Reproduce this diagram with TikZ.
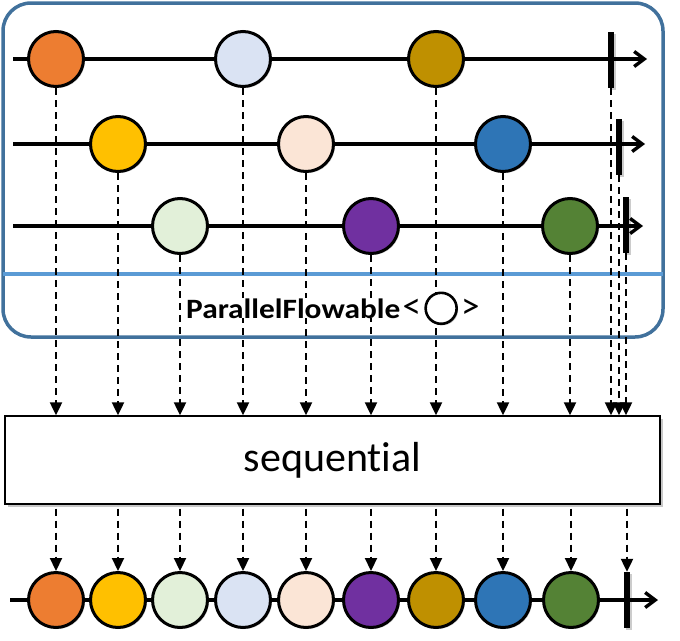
\documentclass[tikz,border=0pt]{standalone}
\usepackage{fontspec}
\setmainfont{Carlito}[Ligatures=NoCommon]
\usetikzlibrary{calc}
\usetikzlibrary{arrows.meta}
\usetikzlibrary{shadows}
\usetikzlibrary{positioning}

\definecolor{mOrange}{HTML}{ED7D31}
\definecolor{mSky}{HTML}{DAE3F3}
\definecolor{mGold}{HTML}{BF9000}
\definecolor{mYellow}{HTML}{FFC000}
\definecolor{mPeach}{HTML}{FBE5D6}
\definecolor{mBlue}{HTML}{2E75B6}
\definecolor{mMint}{HTML}{E2F0D9}
\definecolor{mPurple}{HTML}{7030A0}
\definecolor{mGreen}{HTML}{548235}
\definecolor{frameBlue}{HTML}{41719C}
\definecolor{lineBlue}{HTML}{5B9BD5}

\tikzset{
 softshadow/.style={drop shadow={shadow xshift=1.5pt,shadow yshift=-1.5pt,opacity=.2,fill=black}},
 marble/.style={circle,draw=black,line width=3pt,minimum size=55pt,inner sep=0pt,softshadow},
 endbar/.style={fill=black,minimum width=6pt,minimum height=56pt,inner sep=0pt,softshadow},
 timeline/.style={line width=3.4pt,-{Straight Barb[length=10pt,width=15pt]}},
 flow/.style={line width=2.2pt,dash pattern=on 7pt off 5pt,-{Triangle[length=13pt,width=12pt]}},
 label text/.style={fill=white,inner sep=0pt,font=\fontsize{28}{32}\selectfont}
}

\begin{document}
\begin{tikzpicture}[x=1pt,y=-1pt]
\useasboundingbox (0,0) rectangle (680,640);
\draw[frameBlue,line width=3.5pt,rounded corners=28pt] (3,3) rectangle (663,337);
\draw[lineBlue,line width=3.2pt] (3,274)--(663,274);

\foreach \r/\yy/\tip in {1/59/647,2/144/645,3/226/643} {
 \coordinate (s\r) at (13,\yy);
 \coordinate (e\r) at (\tip,\yy);
 \draw[timeline] (s\r) -- (e\r);
 }
\foreach \n/\xx/\yy/\c in {a1/56/59/mOrange,a2/243/59/mSky,a3/436/59/mGold,
 b1/118/144/mYellow,b2/306/144/mPeach,b3/503/144/mBlue,
 c1/180/226/mMint,c2/371/226/mPurple,c3/570/226/mGreen}
 \node[marble,fill=\c] (\n) at (\xx,\yy) {};
\node[endbar] (t1) at (611,60) {};
\node[endbar] (t2) at (619,147) {};
\node[endbar] (t3) at (626,225) {};

\node[draw,line width=1.4pt,fill=white,minimum width=655pt,minimum height=88pt,
 drop shadow={shadow xshift=2.5pt,shadow yshift=-2.5pt,opacity=.22,fill=black}]
 (seq) at (332.5,460) {\fontsize{42}{50}\selectfont sequential};

\coordinate (bs) at (10,600);
\coordinate (be) at (658,600);
\draw[timeline] (bs) -- (be);
\foreach \n/\xx/\c in {q1/56/mOrange,q2/118/mYellow,q3/180/mMint,q4/243/mSky,q5/306/mPeach,
 q6/371/mPurple,q7/436/mGold,q8/503/mBlue,q9/571/mGreen}
 \node[marble,fill=\c] (\n) at (\xx,600) {};
\node[endbar] (t4) at (627,600) {};

\foreach \n in {a1,a2,a3,b1,b2,b3,c1,c2,c3,t1,t2,t3}
 \draw[flow] (\n.south) -- (\n.south |- seq.north);
\foreach \n in {q1,q2,q3,q4,q5,q6,q7,q8,q9,t4}
 \draw[flow,shorten <=4pt] (seq.south -| \n) -- (\n.north);

\node[label text,anchor=base west] (pf) at (186,318) {\scalebox{1.12}[1]{\bfseries ParallelFlowable}};
\node[label text,anchor=base west,font=\fontsize{37}{40}\selectfont] (lt) at ($(pf.base east)+(2,0)$) {<};
\node[circle,draw=black,fill=white,line width=2.6pt,minimum size=31pt,inner sep=0pt,softshadow,
 right=3pt of lt] (pc) {};
\node[label text,font=\fontsize{37}{40}\selectfont,right=3pt of pc] (gt) {>};
\end{tikzpicture}
\end{document}
